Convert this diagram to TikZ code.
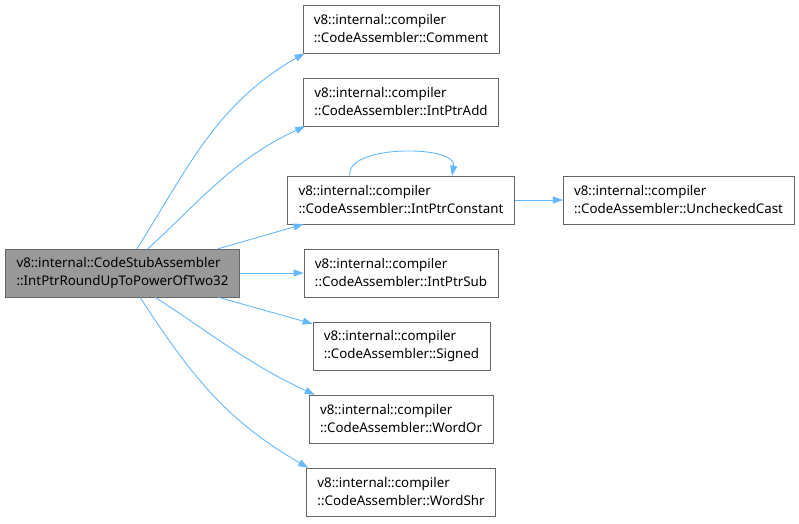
\documentclass[tikz,border=0pt]{standalone}
\usepackage{fontspec}
\setmainfont{Noto Sans}
\usetikzlibrary{positioning,arrows.meta}
\definecolor{edgeblue}{HTML}{63B8FF}
\definecolor{boxgray}{HTML}{666666}
\definecolor{callerfill}{HTML}{999999}
\tikzset{
>={Triangle[width=7pt,length=10pt]},
simple/.style={rectangle, draw=boxgray, fill=white, align=left, inner xsep=11pt,
               minimum height=48pt, font=\fontsize{13.33}{18}\selectfont},
caller/.style={simple, fill=callerfill},
edge/.style={->, draw=edgeblue, color=edgeblue, line width=0.9pt},
}
\begin{document}
\begin{tikzpicture}[x=1pt, y=-1pt]

    \useasboundingbox (0,0) rectangle (799,523);

    \node[caller] (n0) at(122.5, 273)  {v8::internal::CodeStubAssembler\\::IntPtrRoundUpToPowerOfTwo32};

    \node[simple] (n1) at(401, 29)  {v8::internal::compiler\\::CodeAssembler::Comment};
    \node[simple] (n2) at(401, 102)  {v8::internal::compiler\\::CodeAssembler::IntPtrAdd};
    \node[simple] (n3) at(401, 200)  {v8::internal::compiler\\::CodeAssembler::IntPtrConstant};
    \node[simple] (n4) at(678.5, 200)  {v8::internal::compiler\\::CodeAssembler::UncheckedCast};
    \node[simple] (n5) at(401, 273)  {v8::internal::compiler\\::CodeAssembler::IntPtrSub};
    \node[simple] (n6) at(401.5, 346)  {v8::internal::compiler\\::CodeAssembler::Signed};
    \node[simple] (n7) at(401, 419)  {v8::internal::compiler\\::CodeAssembler::WordOr};
    \node[simple] (n8) at(401, 492)  {v8::internal::compiler\\::CodeAssembler::WordShr};

    \draw[edge] ([xshift=14.5pt]n0.north)  to [out=58, in=-150] ([xshift=2pt]n1.south west) ;
    \draw[edge] ([xshift=25.5pt]n0.north)  to [out=43, in=-155] ([xshift=2pt]n2.south west) ;
    \draw[edge] ([xshift=95.5pt]n0.north)  to ([xshift=16pt]n3.south west) ;
    \draw[edge] (n0)  to (n5) ;
    \draw[edge] ([xshift=95.5pt]n0.south)  to ([yshift=-2pt]n6.north west) ;
    \draw[edge] ([xshift=32.5pt]n0.south)  to [out=-33, in=155] ([xshift=6pt]n7.north west) ;
    \draw[edge] ([xshift=17.5pt]n0.south)  to [out=-57, in=150] ([xshift=2pt]n8.north west) ;

    \draw[edge] (n3)  to (n4) ;
    \draw[edge] ([xshift=-51pt]n3.north)  to [out=100, in=80, looseness=0.8] ([xshift=51pt]n3.north) ;

\end{tikzpicture}
\end{document}
